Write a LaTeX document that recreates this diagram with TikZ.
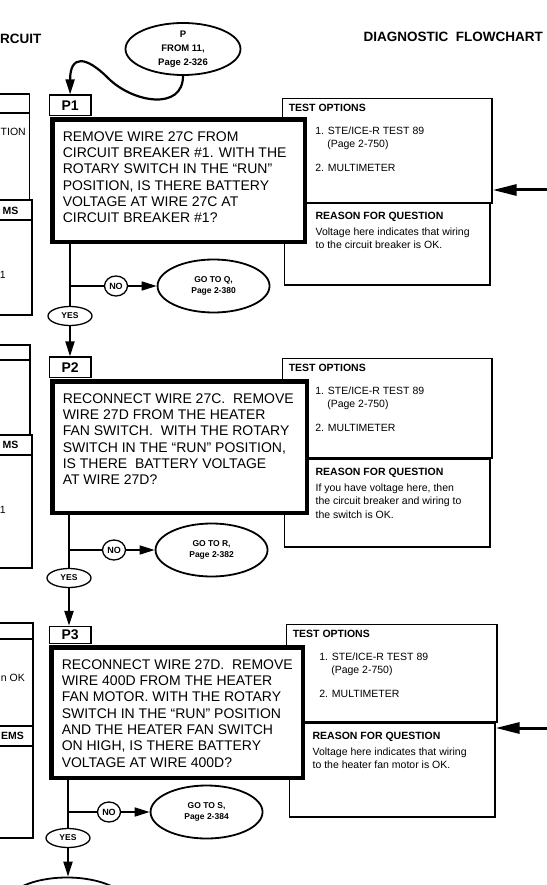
\documentclass[tikz,border=0pt]{standalone}
\usepackage{fontspec}
\setmainfont{Liberation Sans}
\usetikzlibrary{arrows.meta,positioning,shapes.geometric}

\newcommand{\pbody}[3]{\parbox[t][#2][t]{#1}{#3}}
\newcommand{\boxline}[1]{\hbox to\hsize{#1\hss}}

\begin{document}
\begin{tikzpicture}[x=1pt, y=-1pt, >={Triangle[length=15pt,width=9pt]}, node distance=28.5pt,
  qbox/.style={draw, line width=4.5pt, fill=white, anchor=north west, inner xsep=10.25pt, inner ysep=12pt, font=\fontsize{14}{16.3}\selectfont},
  tag/.style={draw, line width=1.2pt, fill=white, anchor=south west, minimum width=41.8pt, minimum height=20.4pt, inner sep=0pt, font=\fontsize{14}{14}\selectfont\bfseries},
  testbox/.style={draw, line width=1.3pt, fill=white, anchor=north west, inner xsep=6.5pt, inner ysep=5.5pt, font=\fontsize{10.5}{13}\selectfont},
  whybox/.style={draw, line width=1.2pt, fill=white, anchor=north west, inner xsep=31.4pt, inner ysep=8.5pt, font=\fontsize{10.5}{13.5}\selectfont},
  oval/.style={ellipse, draw, line width=1.8pt, fill=white, inner sep=0pt, minimum width=112pt, minimum height=53pt, align=center, font=\fontsize{8.5}{11.6}\selectfont\bfseries},
  yesoval/.style={ellipse, draw, line width=1.3pt, fill=white, inner sep=0pt, minimum width=44pt, minimum height=19pt, font=\fontsize{8.5}{10}\selectfont\bfseries},
  nocirc/.style={ellipse, draw, line width=1.3pt, fill=white, inner sep=0pt, minimum width=23pt, minimum height=20pt, font=\fontsize{9}{10}\selectfont\bfseries},
  flow/.style={line width=2.2pt},
  branch/.style={line width=1.6pt},
  inarrow/.style={line width=3pt, -{Triangle[length=24pt,width=11pt]}},
  edgebox/.style={line width=1.2pt},
  edgetext/.style={inner sep=0pt, font=\fontsize{10.5}{13}\selectfont},
  heading/.style={inner sep=0pt, font=\fontsize{13.5}{16}\selectfont\bfseries}]

\useasboundingbox (0,0) rectangle (546,885);

% headings
\node[heading, anchor=west] (sect) at (0,39) {RCUIT};
\node[heading, anchor=east] (chart) at (543,37) {DIAGNOSTIC~ FLOWCHART};

% facing page, cut off at the left edge
\foreach \ytop/\yhead/\ymid/\yband/\ybot/\xa/\xb in {94/113/200/220/315/29.5/32, 345/360/435/455/568/30/32, 623/639/726/746/838/33/33} {
  \draw[edgebox] (-5,\ytop) -| (\xa,\ymid);
  \draw[edgebox] (-5,\yhead) -- (\xa,\yhead);
  \draw[edgebox] (-5,\ymid) -| (\xb,\ybot) -- (-5,\ybot);
  \draw[edgebox] (-5,\yband) -- (\xb,\yband);
}
\node[edgetext, anchor=east] (ea1) at (26,132) {TION};
\node[edgetext, anchor=east, font=\fontsize{10.5}{13}\selectfont\bfseries] (ea2) at (18.5,210.5) {MS};
\node[edgetext, anchor=east] (ea3) at (6,275) {1};
\node[edgetext, anchor=east, font=\fontsize{10.5}{13}\selectfont\bfseries] (eb2) at (18.5,445) {MS};
\node[edgetext, anchor=east] (eb3) at (6,510) {1};
\node[edgetext, anchor=east] (ec1) at (25,678) {n OK};
\node[edgetext, anchor=east, font=\fontsize{10.5}{13}\selectfont\bfseries] (ec2) at (24,736) {EMS};

% test options and reasons
\node[testbox] (o1) at (281.65,97.65) {\pbody{196.7pt}{93.7pt}{%
  \boxline{\bfseries TEST OPTIONS}\vspace{10pt}
  \boxline{\hspace{26.5pt}1. STE/ICE-R TEST 89}
  \boxline{\hspace{38.5pt}(Page 2-750)}\vspace{11pt}
  \boxline{\hspace{26.5pt}2. MULTIMETER}}};
\node[whybox] (r1) at (283.6,202.6) {\pbody{143pt}{64.8pt}{%
  \boxline{\bfseries REASON FOR QUESTION}\vspace{2.5pt}
  \boxline{Voltage here indicates that wiring}
  \boxline{to the circuit breaker is OK.}}};

\node[testbox] (o2) at (281.65,357.65) {\pbody{196.7pt}{88.7pt}{%
  \boxline{\bfseries TEST OPTIONS}\vspace{10pt}
  \boxline{\hspace{26.5pt}1. STE/ICE-R TEST 89}
  \boxline{\hspace{38.5pt}(Page 2-750)}\vspace{11pt}
  \boxline{\hspace{26.5pt}2. MULTIMETER}}};
\node[whybox] (r2) at (283.6,458.6) {\pbody{143pt}{70.8pt}{%
  \boxline{\bfseries REASON FOR QUESTION}\vspace{2.5pt}
  \boxline{If you have voltage here, then}
  \boxline{the circuit breaker and wiring to}
  \boxline{the switch is OK.}}};

\node[testbox] (o3) at (285.65,623.65) {\pbody{197.7pt}{86.7pt}{%
  \boxline{\bfseries TEST OPTIONS}\vspace{10pt}
  \boxline{\hspace{26.5pt}1. STE/ICE-R TEST 89}
  \boxline{\hspace{38.5pt}(Page 2-750)}\vspace{11pt}
  \boxline{\hspace{26.5pt}2. MULTIMETER}}};
\node[whybox, inner xsep=23.4pt] (r3) at (288.6,722.6) {\pbody{159pt}{76.8pt}{%
  \boxline{\bfseries REASON FOR QUESTION}\vspace{2.5pt}
  \boxline{Voltage here indicates that wiring}
  \boxline{to the heater fan motor is OK.}}};

% step tags
\node[tag] (t1) at (48.6,116) {P1};
\node[tag] (t2) at (48.6,378) {P2};
\node[tag, minimum height=17pt] (t3) at (48.6,644) {P3};

% questions
\node[qbox] (q1) at (50.25,117.25) {\pbody{232pt}{98.5pt}{%
  \boxline{REMOVE WIRE 27C FROM}
  \boxline{CIRCUIT BREAKER \#1. WITH THE}
  \boxline{ROTARY SWITCH IN THE ``RUN''}
  \boxline{POSITION, IS THERE BATTERY}
  \boxline{VOLTAGE AT WIRE 27C AT}
  \boxline{CIRCUIT BREAKER \#1?}}};
\node[qbox] (q2) at (50.25,379.25) {\pbody{234pt}{107.5pt}{%
  \boxline{RECONNECT WIRE 27C.~ REMOVE}
  \boxline{WIRE 27D FROM THE HEATER}
  \boxline{FAN SWITCH.~ WITH THE ROTARY}
  \boxline{SWITCH IN THE ``RUN'' POSITION,}
  \boxline{IS THERE~ BATTERY VOLTAGE}
  \boxline{AT WIRE 27D?}}};
\node[qbox] (q3) at (49.25,645.25) {\pbody{231pt}{106.5pt}{%
  \boxline{RECONNECT WIRE 27D.~ REMOVE}
  \boxline{WIRE 400D FROM THE HEATER}
  \boxline{FAN MOTOR. WITH THE ROTARY}
  \boxline{SWITCH IN THE ``RUN'' POSITION}
  \boxline{AND THE HEATER FAN SWITCH}
  \boxline{ON HIGH, IS THERE BATTERY}
  \boxline{VOLTAGE AT WIRE 400D?}}};

% entry and exits
\node[oval, minimum width=115pt, minimum height=52pt, font=\fontsize{9.5}{14}\selectfont\bfseries] (pin) at (183,49) {P\\FROM 11,\\Page 2-326};

\node[yesoval] (yes1) at (70,316) {YES};
\node[nocirc] (no1) at (116,286) {NO};
\node[oval, right=of no1] (goq) {GO TO Q,\\Page 2-380};

\node[yesoval] (yes2) at (69,578) {YES};
\node[nocirc] (no2) at (114,550) {NO};
\node[oval, right=of no2] (gor) {GO TO R,\\Page 2-382};

\node[yesoval] (yes3) at (68,838) {YES};
\node[nocirc] (no3) at (109,812) {NO};
\node[oval, right=of no3] (gos) {GO TO S,\\Page 2-384};

\node[oval, minimum width=122pt, minimum height=55pt] (next) at (67,905) {};

% connectors
\draw[flow,->] (pin.south) .. controls +(0,35) and +(25,25) .. (108,78)
  .. controls +(-22,-22) and +(0,-40) .. (t1.north);

\draw[flow] (yes1 |- q1.south) -- (yes1);
\draw[flow,->] (yes1) -- (yes1 |- t2.north);
\draw[branch] (no1 -| yes1) -- (no1);
\draw[branch,->] (no1) -- (goq);

\draw[flow] (yes2 |- q2.south) -- (yes2);
\draw[flow,->] (yes2) -- (yes2 |- t3.north);
\draw[branch] (no2 -| yes2) -- (no2);
\draw[branch,->] (no2) -- (gor);

\draw[flow] (yes3 |- q3.south) -- (yes3);
\draw[flow,->] (yes3) -- (yes3 |- next.north);
\draw[branch] (no3 -| yes3) -- (no3);
\draw[branch,->] (no3) -- (gos);

\coordinate (in1) at (550,190);
\draw[inarrow] (in1) -- (in1 -| o1.east);
\coordinate (in3) at (550,728);
\draw[inarrow] (in3) -- (in3 -| r3.east);
\end{tikzpicture}
\end{document}
